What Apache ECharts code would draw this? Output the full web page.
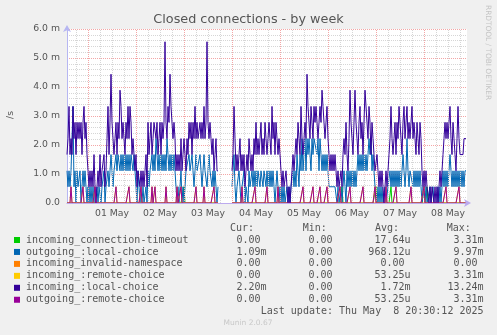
<!DOCTYPE html>
<html><head><meta charset="utf-8">
<script src="https://cdn.jsdelivr.net/npm/echarts@6/dist/echarts.min.js"></script>
<style>html,body{margin:0;padding:0;background:#f0f0f0}#c{width:497px;height:335px}</style>
</head><body><div id="c"></div>
<script>
// time axis: hours relative to 01 May 00:00, one sample per 30 minutes
const startHour = -10.5;
const stepHours = 0.5;
const dayLabels = ['01 May','02 May','03 May','04 May','05 May','06 May','07 May','08 May'];
const dayLabelHours = [12,36,60,84,108,132,156,180];
const majorGridHours = [0,24,48,72,96,120,144,168];
const minorGridHours = [-6,6,12,18,30,36,42,54,60,66,78,84,90,102,108,114,126,132,138,150,156,162,174,180,186];
const yTickLabels = ['0.0','1.0 m','2.0 m','3.0 m','4.0 m','5.0 m','6.0 m'];

// incoming_:local-choice (per second, milli units)
const incomingLocal = [
1.67,2.22,3.33,1.67,2.22,1.67,3.33,2.22,2.78,1.67,2.78,2.22,
2.78,2.22,2.78,1.67,2.78,3.33,2.22,2.78,1.67,1.11,.56,1.11,
.56,1.11,.56,1.67,.56,0,.56,1.11,.56,1.67,.56,1.11,
1.11,1.67,.56,1.11,2.22,3.33,1.67,2.78,4.44,2.78,2.22,1.67,
2.22,2.78,1.67,2.78,2.22,3.89,3.33,2.22,2.78,2.22,1.67,2.78,
2.22,3.33,2.22,3.33,2.78,1.67,2.22,1.67,1.11,1.67,.56,1.11,
1.11,.56,1.11,.56,1.11,.56,1.11,1.67,.56,2.78,1.67,2.22,
2.78,1.67,2.22,2.78,2.78,2.22,2.78,1.67,2.22,2.78,1.67,2.78,
2.22,2.78,5.56,2.78,2.22,3.33,2.78,4.44,3.33,2.78,2.22,2.78,
2.22,1.11,1.67,1.11,1.67,1.11,2.22,1.11,1.67,2.22,1.67,1.11,
2.22,1.67,2.78,2.22,2.78,1.67,2.78,2.22,3.33,2.22,2.78,2.22,
2.22,2.78,2.22,2.78,2.22,3.33,2.22,2.78,5.56,2.78,2.22,2.78,
2.22,1.67,2.22,1.11,1.67,2.22,1.11,1.11,
null,null,null,null,null,null,null,null,null,null,null,null,null,
1.11,1.67,3.33,2.22,1.11,1.67,1.11,1.67,2.22,1.11,1.67,1.11,
1.67,.56,1.11,1.67,1.11,2.22,1.67,1.11,1.67,1.11,2.22,1.67,
2.78,1.67,2.22,1.67,2.22,2.78,1.67,2.22,1.67,2.78,2.22,1.67,
2.22,2.78,2.22,1.67,3.33,2.22,2.78,1.67,2.78,2.22,1.67,2.22,
1.67,1.11,.56,1.11,.56,.56,1.11,.56,0,.56,0,.56,
1.11,1.67,1.11,1.67,2.22,1.67,2.78,2.22,1.67,3.33,2.22,1.67,
2.22,2.78,2.22,4.44,3.33,2.78,2.22,3.33,2.78,2.22,3.33,2.78,
3.33,2.78,2.22,2.78,3.33,2.78,3.89,3.33,2.78,2.22,2.78,3.33,
2.22,1.67,1.11,1.67,1.11,1.67,1.11,1.67,1.11,.56,1.11,.56,
.56,1.11,.56,1.67,2.22,1.67,2.78,1.67,1.11,2.22,3.89,2.78,
2.22,1.67,2.78,3.89,2.78,2.22,1.67,2.78,3.33,2.22,2.78,1.67,
2.78,3.89,3.89,2.78,2.22,3.33,2.78,1.67,2.78,2.22,1.67,1.11,
1.11,1.67,1.11,.56,1.11,.56,1.11,.56,0,.56,1.11,.56,
1.11,1.67,2.22,3.33,2.22,1.67,2.22,2.78,1.67,2.78,2.22,3.33,
2.78,2.22,1.67,2.78,3.33,2.22,2.78,3.33,2.22,2.78,2.22,2.78,
3.33,2.22,2.78,2.22,1.67,2.78,2.22,1.67,2.78,2.22,1.11,.56,
1.11,.56,1.11,.56,.56,0,.56,0,.56,.56,0,.56,
0,.56,0,.56,1.11,.56,1.11,1.67,2.22,2.78,2.22,2.78,
2.22,2.78,3.33,2.22,1.67,2.78,2.22,1.67,1.11,2.22,3.33,2.22,
1.67,1.67,1.67,1.67,2.22,2.22,2.22
];

// outgoing_:local-choice
const outgoingLocal = [
1.11,.56,1.11,.56,1.11,1.11,3.33,.56,1.11,0,1.11,.56,
.56,1.11,0,.56,1.11,.56,1.11,.56,0,.56,0,.56,
0,.56,0,.56,0,0,.56,0,.56,.56,0,.56,
.56,1.11,0,.56,.56,1.11,.56,1.11,1.67,1.11,.56,1.11,
1.11,1.67,1.11,1.67,1.67,1.11,1.67,1.11,1.67,1.11,1.67,1.11,
1.67,1.11,1.67,1.11,1.67,1.67,1.11,1.67,1.11,.56,0,1.11,
.56,0,.56,0,.56,0,0,.56,0,1.11,.56,1.11,
1.11,1.67,1.11,1.67,1.11,2.22,1.67,1.11,1.67,1.11,1.67,1.11,
1.67,1.11,1.67,1.11,2.22,1.67,1.11,1.67,1.11,1.67,1.11,1.67,
1.11,.56,0,.56,0,.56,1.11,0,.56,0,.56,1.11,
1.11,1.11,1.67,1.11,1.11,1.67,1.11,.56,1.11,1.67,1.11,1.11,
1.11,1.67,1.11,.56,1.11,1.67,1.11,1.11,.56,1.11,1.67,1.11,
1.11,.56,1.11,.56,1.11,.56,0,.56,
null,null,null,null,null,null,null,null,null,null,null,null,null,
.56,1.11,1.67,.56,0,.56,.56,1.11,.56,0,.56,.56,
1.11,0,.56,.56,0,1.11,.56,.56,1.11,.56,1.11,.56,
1.11,.56,1.11,1.11,.56,1.11,1.11,.56,1.11,1.11,.56,1.11,
.56,1.11,.56,1.11,.56,1.11,.56,0,.56,1.11,.56,0,
.56,0,.56,0,.56,0,0,.56,0,.56,0,.56,
.56,1.11,.56,1.11,.56,1.67,1.11,.56,1.67,1.11,2.22,1.11,
1.67,2.22,1.11,2.22,1.67,2.22,2.22,1.11,2.22,1.67,2.22,2.22,
2.22,1.67,2.22,1.11,2.22,1.67,1.11,1.67,1.11,1.67,1.11,1.67,
1.11,.56,.56,.56,.56,.56,.56,.56,.56,0,.56,0,
0,.56,0,.56,1.11,.56,0,1.11,.56,1.11,.56,1.11,
.56,1.11,.56,1.11,.56,1.11,1.67,1.11,1.67,1.11,1.67,1.11,
1.67,1.11,1.67,1.11,1.67,2.22,1.67,2.22,1.11,1.67,1.11,.56,
.56,0,.56,0,.56,0,.56,0,0,.56,0,0,
.56,.56,1.11,.56,1.11,.56,1.11,.56,1.11,.56,1.11,.56,
1.11,.56,1.11,1.67,1.11,.56,1.11,2.22,1.11,.56,1.11,1.11,
1.11,.56,1.11,.56,1.11,.56,1.11,.56,1.11,.56,0,.56,
.56,0,.56,0,0,0,.56,0,0,.56,0,0,
0,0,.56,0,.56,0,.56,1.11,.56,1.11,.56,1.11,
.56,1.11,1.67,1.11,.56,1.11,.56,1.11,.56,1.11,.56,1.11,
.56,1.11,.56,1.11,.56,1.11,1.11
];

// sparse series: half-hour sample indices that carried one connection (0.56 m/s)
const remoteChoiceSlots = [4,16,28,49,62,74,85,88,99,110,114,129,137,147,175,188,200,211,236,246,253,260,273,283,296,308,319,329,344,357,379,392];
const remoteChoiceValue = 0.56;
const timeoutSlots = [117,275,309,324,357,360];
const timeoutValue = 0.56;

const legendNames = ['incoming_connection-timeout','outgoing_:local-choice','incoming_invalid-namespace','incoming_:remote-choice','incoming_:local-choice','outgoing_:remote-choice'];
const legendColors = ['#00CC00','#0066B3','#FF8000','#FFCC00','#330099','#990099'];
const curValues = ['0.00','1.09m','0.00','0.00','2.20m','0.00'];
const minValues = ['0.00','0.00','0.00','0.00','0.00','0.00'];
const avgValues = ['17.64u','968.12u','0.00','53.25u','1.72m','53.25u'];
const maxValues = ['3.31m','9.97m','0.00','3.31m','13.24m','3.31m'];

const N = incomingLocal.length;
const hourAt = i => startHour + i * stepHours;
const gapMask = incomingLocal.map(v => v === null);
function sparse(slots, val) {
  const arr = new Array(N).fill(0);
  slots.forEach(s => { arr[s] = val; });
  return arr.map((v, i) => gapMask[i] ? null : v);
}
const timeoutSeries = sparse(timeoutSlots, timeoutValue);
const invalidSeries = sparse([], 0);
const remoteIn = sparse(remoteChoiceSlots, remoteChoiceValue);
const remoteOut = sparse(remoteChoiceSlots, remoteChoiceValue);
const seriesData = [timeoutSeries, outgoingLocal, invalidSeries, remoteIn, incomingLocal, remoteOut];

const majorColor = '#f3a6a6';
const minorColor = '#d6d6d6';
const axisColor = '#b6b6f2';
const textColor = '#555555';

const series = seriesData.map((arr, k) => ({
  type: 'line', name: legendNames[k],
  data: arr.map((v, i) => [hourAt(i), v]),
  showSymbol: false, connectNulls: false, z: 3 + k,
  lineStyle: { width: 1, color: legendColors[k] },
  itemStyle: { color: legendColors[k] },
  animation: false, silent: true
}));
series.push({
  type: 'line', data: [[0, 0]], showSymbol: false, z: 1, silent: true,
  lineStyle: { opacity: 0 },
  markLine: {
    silent: true, symbol: ['none', 'none'], label: { show: false }, animation: false,
    data: minorGridHours.map(h => ({ xAxis: h, lineStyle: { color: minorColor, type: [1, 1], width: 1 } }))
      .concat(majorGridHours.map(h => ({ xAxis: h, lineStyle: { color: majorColor, type: [1, 1], width: 1 } })))
  }
});

const graphics = [];
graphics.push({ type: 'text', x: 248.5, y: 19.5, style: { text: 'Closed connections - by week', font: '12.8px "DejaVu Sans"', fill: textColor, align: 'center', verticalAlign: 'middle' } });
graphics.push({ type: 'text', x: 11, y: 115, rotation: Math.PI / 2, style: { text: '/s', font: '9.3px "DejaVu Sans"', fill: textColor, align: 'center', verticalAlign: 'middle' } });
graphics.push({ type: 'text', x: 488, y: 5, rotation: -Math.PI / 2, style: { text: 'RRDTOOL / TOBI OETIKER', font: '7.4px "DejaVu Sans"', fill: '#c4c4c4', align: 'left', verticalAlign: 'middle' } });
const mono = '10px "DejaVu Sans Mono"';
const colRight = [266.5, 338.5, 410.5, 483.5];
const headers = ['Cur:', 'Min:', 'Avg:', 'Max:'];
const headerX = [230, 302.7, 375, 446.7];
headers.forEach((h, k) => graphics.push({ type: 'text', x: headerX[k], y: 228, style: { text: h, font: mono, fill: textColor, align: 'left', verticalAlign: 'middle' } }));
const pad = v => /[0-9]$/.test(v) ? v + ' ' : v;
legendNames.forEach((name, k) => {
  const y = 240 + 11.95 * k;
  graphics.push({ type: 'rect', shape: { x: 14, y: y - 3, width: 6, height: 6 }, style: { fill: legendColors[k] } });
  graphics.push({ type: 'text', x: 26, y: y, style: { text: name, font: mono, fill: textColor, align: 'left', verticalAlign: 'middle' } });
  [curValues, minValues, avgValues, maxValues].forEach((col, c) => {
    graphics.push({ type: 'text', x: colRight[c], y: y, style: { text: pad(col[k]), font: mono, fill: textColor, align: 'right', verticalAlign: 'middle', whiteSpace: 'pre' } });
  });
});
graphics.push({ type: 'text', x: 483.5, y: 311.7, style: { text: 'Last update: Thu May  8 20:30:12 2025', font: mono, fill: textColor, align: 'right', verticalAlign: 'middle' } });
graphics.push({ type: 'text', x: 248, y: 323.3, style: { text: 'Munin 2.0.67', font: '7.5px "DejaVu Sans"', fill: '#c8c8c8', align: 'center', verticalAlign: 'middle' } });

const chart = echarts.init(document.getElementById('c'), null, { renderer: 'canvas' });
chart.setOption({
  backgroundColor: '#f0f0f0',
  animation: false,
  grid: { left: 67, top: 29, width: 400, height: 174, backgroundColor: '#ffffff', show: true, borderWidth: 0 },
  xAxis: {
    type: 'value', min: startHour, max: 189.5, z: 20,
    axisLine: { show: true, onZero: false, lineStyle: { color: '#bcaaee', width: 1 }, symbol: ['none', 'arrow'], symbolSize: [6, 7], symbolOffset: [0, 4] },
    axisTick: { show: false },
    splitLine: { show: false },
    axisLabel: { customValues: dayLabelHours, formatter: v => dayLabels[dayLabelHours.indexOf(v)], color: textColor, fontSize: 9.3, fontFamily: 'DejaVu Sans', margin: 6 }
  },
  yAxis: {
    type: 'value', min: 0, max: 6, interval: 1,
    axisLine: { show: true, onZero: false, lineStyle: { color: axisColor, width: 1 }, symbol: ['none', 'arrow'], symbolSize: [6, 7], symbolOffset: [0, 4] },
    axisTick: { show: false },
    axisLabel: { formatter: v => yTickLabels[Math.round(v)], color: textColor, fontSize: 9.3, fontFamily: 'DejaVu Sans', margin: 7 },
    splitLine: { show: true, lineStyle: { color: majorColor, type: [1, 1], width: 1 } },
    minorTick: { show: false, splitNumber: 5 },
    minorSplitLine: { show: true, lineStyle: { color: minorColor, type: [1, 1], width: 1 } }
  },
  series: series,
  graphic: graphics
});
</script></body></html>
